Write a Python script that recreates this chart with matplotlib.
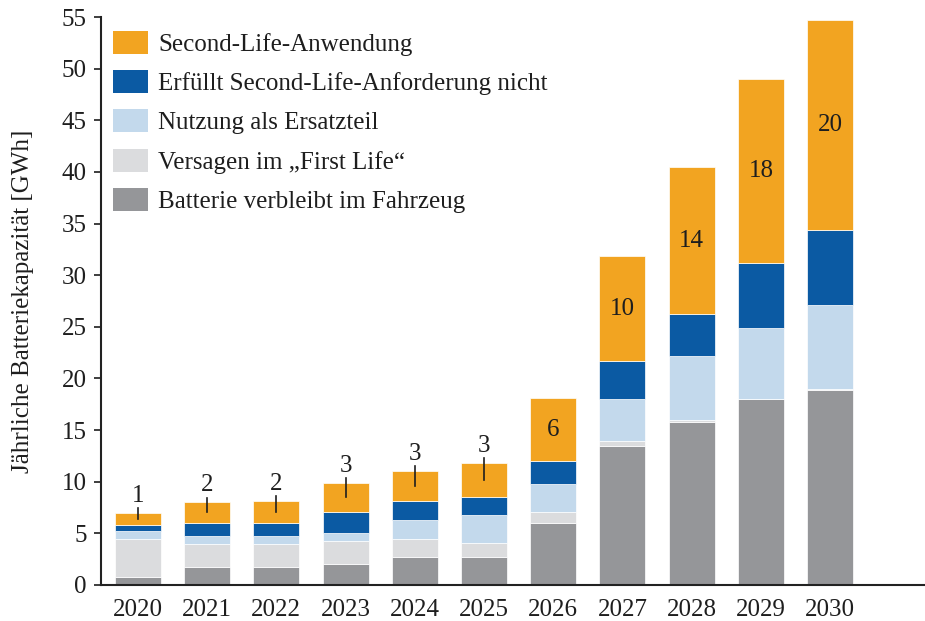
import matplotlib
matplotlib.use("Agg")
from matplotlib import pyplot as plt
from matplotlib.patches import Patch
import numpy as np

# Jährliche Batteriekapazität nach Verwendung (GWh)
years = ["2020", "2021", "2022", "2023", "2024", "2025",
         "2026", "2027", "2028", "2029", "2030"]
fahrzeug = [0.8, 1.7, 1.7, 2.0, 2.7, 2.7, 6.05, 13.45, 15.75, 18.0, 18.9]
first_life = [3.7, 2.3, 2.3, 2.3, 1.8, 1.35, 1.0, 0.5, 0.25, 0.05, 0.05]
ersatzteil = [0.7, 0.7, 0.7, 0.7, 1.8, 2.7, 2.7, 4.1, 6.15, 6.8, 8.15]
nicht_erfuellt = [0.6, 1.35, 1.35, 2.1, 1.8, 1.8, 2.25, 3.6, 4.05, 6.35, 7.25]
second_life = [1.2, 1.95, 2.1, 2.8, 2.95, 3.3, 6.1, 10.2, 14.25, 17.75, 20.4]

labels = ["Batterie verbleibt im Fahrzeug", "Versagen im \u201eFirst Life\u201c",
          "Nutzung als Ersatzteil", "Erfüllt Second-Life-Anforderung nicht",
          "Second-Life-Anwendung"]
colors = ["#959699", "#DBDCDE", "#C3D9EC", "#0B5AA3", "#F2A421"]
text_color = "#1e1e1e"

plt.rcParams["font.family"] = ["Liberation Serif", "DejaVu Serif"]
plt.rcParams["font.size"] = 18

fig = plt.figure(figsize=(9.25, 6.21), dpi=100)
ax = fig.add_axes([0.109, 0.058, 0.891, 0.9146])

x = np.arange(len(years))
bottom = np.zeros(len(years))
series = [fahrzeug, first_life, ersatzteil, nicht_erfuellt, second_life]
for values, color in zip(series, colors):
    ax.bar(x, values, width=0.665, bottom=bottom, color=color,
           edgecolor="white", linewidth=0.5)
    bottom += np.array(values)

# labels for the second-life share
base = bottom - np.array(second_life)
for i, v in enumerate(second_life):
    mid = base[i] + v / 2
    top = bottom[i]
    if v < 4:
        ax.plot([i, i], [mid, top + 0.45], color=text_color, lw=1.2)
        ax.annotate(f"{v:.0f}", xy=(i, top + 0.45), xytext=(0, 1),
                    textcoords="offset points", ha="center", va="bottom",
                    color=text_color, fontsize=18)
    else:
        ax.text(i, mid, f"{v:.0f}", ha="center", va="center",
                color=text_color, fontsize=18)

ax.set_xlim(-0.535, 11.37)
ax.set_ylim(0, 55)
ax.set_yticks(np.arange(0, 56, 5))
ax.set_xticks(x)
ax.set_xticklabels(years)
ax.tick_params(axis="x", length=0, pad=10, colors=text_color)
ax.tick_params(axis="y", length=5, width=1.2, pad=5, colors=text_color)
for side in ["top", "right"]:
    ax.spines[side].set_visible(False)
for side in ["left", "bottom"]:
    ax.spines[side].set_linewidth(1.5)
    ax.spines[side].set_color("#222222")

ax.set_ylabel("Jährliche Batteriekapazität [GWh]", color=text_color, labelpad=20)

handles = [Patch(facecolor=c, edgecolor="none") for c in colors]
ax.legend(handles[::-1], labels[::-1], loc="upper left",
          bbox_to_anchor=(0.0147, 0.976), frameon=False, borderpad=0,
          borderaxespad=0, handlelength=1.4, handleheight=1.04,
          handletextpad=0.4, labelspacing=0.57, fontsize=18,
          labelcolor=text_color)

fig.savefig("out.png", dpi=100)
